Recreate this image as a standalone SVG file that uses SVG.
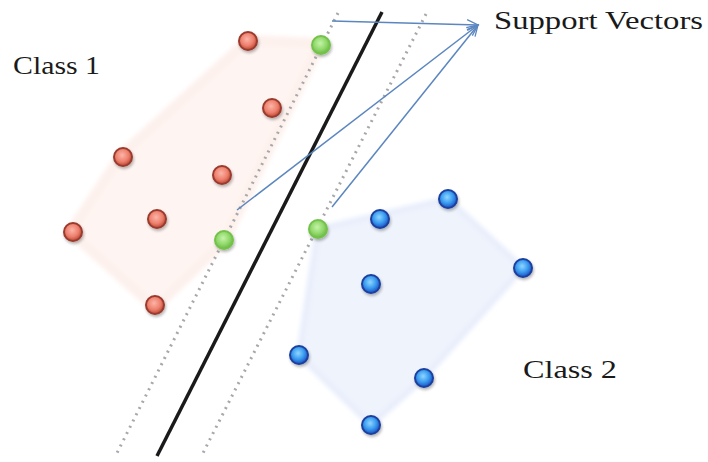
<svg xmlns="http://www.w3.org/2000/svg" width="708" height="462" viewBox="0 0 708 462">
<defs>
<radialGradient id="gr" cx="0.45" cy="0.4" r="0.6"><stop offset="0" stop-color="#fbb5a8"/><stop offset="0.6" stop-color="#ee7f6c"/><stop offset="1" stop-color="#b94736"/></radialGradient>
<radialGradient id="gg" cx="0.45" cy="0.4" r="0.6"><stop offset="0" stop-color="#c6f3a8"/><stop offset="0.6" stop-color="#8fd86a"/><stop offset="1" stop-color="#6ab844"/></radialGradient>
<radialGradient id="gb" cx="0.45" cy="0.4" r="0.6"><stop offset="0" stop-color="#8fd6ff"/><stop offset="0.55" stop-color="#3a9cf0"/><stop offset="1" stop-color="#1c4fc0"/></radialGradient>
<filter id="sh" x="-50%" y="-50%" width="200%" height="200%"><feGaussianBlur in="SourceAlpha" stdDeviation="1.5"/><feOffset dx="1" dy="2"/><feComponentTransfer><feFuncA type="linear" slope="0.3"/></feComponentTransfer><feMerge><feMergeNode/><feMergeNode in="SourceGraphic"/></feMerge></filter>
<filter id="soft"><feGaussianBlur stdDeviation="2"/></filter>
<marker id="ah" markerWidth="14" markerHeight="14" refX="12" refY="6" orient="auto" markerUnits="userSpaceOnUse"><path d="M1,1 L12,6 L1,11" fill="none" stroke="#5b86bf" stroke-width="1.3"/></marker>
</defs>
<style>
.lbl{font-family:"Liberation Serif",serif;font-size:25px;fill:#1a1a1a}
.red circle{fill:url(#gr);stroke:#9a3b2e;stroke-width:2}
.grn circle{fill:url(#gg);stroke:#74c24c;stroke-width:2}
.blu circle{fill:url(#gb);stroke:#1e3f9e;stroke-width:2}
.dot{fill:none;stroke:#a8a8a8;stroke-width:3;stroke-dasharray:2 5}
.arr{fill:none;stroke:#5b86bf;stroke-width:1.5;marker-end:url(#ah)}
</style>
<rect width="708" height="462" fill="#ffffff"/>
<g id="hull1"><polygon points="248,40 321,43 224,242 155,308 70,232 121,155" fill="#fef4f1" stroke="#fdf1ed" stroke-width="10" stroke-linejoin="round" filter="url(#soft)"/></g>
<g id="hull2"><polygon points="318,229 448,199 523,268 424,378 371,425 299,355" fill="#eef3fc" stroke="#e8eefb" stroke-width="6" stroke-linejoin="round" filter="url(#soft)"/></g>
<g id="margins">
<line class="dot" x1="338" y1="13" x2="116" y2="455"/>
<line class="dot" x1="426" y1="14" x2="202" y2="455"/>
</g>
<g id="hyperplane"><line x1="382" y1="12" x2="157" y2="456" stroke="#1a1a1a" stroke-width="3.5"/></g>
<g id="connectors">
<line class="arr" x1="332" y1="21" x2="478" y2="25"/>
<line class="arr" x1="237" y1="210" x2="478" y2="25"/>
<line class="arr" x1="332" y1="207" x2="478" y2="25"/>
</g>
<g id="class1" class="red" filter="url(#sh)">
<circle cx="248" cy="41" r="9"/>
<circle cx="272" cy="108" r="9"/>
<circle cx="123" cy="157" r="9"/>
<circle cx="222" cy="175" r="9"/>
<circle cx="157" cy="219" r="9"/>
<circle cx="73" cy="232" r="9"/>
<circle cx="155" cy="305" r="9"/>
</g>
<g id="supportvectors" class="grn" filter="url(#sh)">
<circle cx="321" cy="45" r="9"/>
<circle cx="224" cy="240" r="9"/>
<circle cx="318" cy="229" r="9"/>
</g>
<g id="class2" class="blu" filter="url(#sh)">
<circle cx="380" cy="219" r="9"/>
<circle cx="448" cy="199" r="9"/>
<circle cx="523" cy="268" r="9"/>
<circle cx="371" cy="284" r="9"/>
<circle cx="299" cy="355" r="9"/>
<circle cx="424" cy="378" r="9"/>
<circle cx="371" cy="425" r="9"/>
</g>
<g id="labels">
<text class="lbl" x="13" y="74" textLength="87" lengthAdjust="spacingAndGlyphs">Class 1</text>
<text class="lbl" x="494" y="29" textLength="209" lengthAdjust="spacingAndGlyphs">Support Vectors</text>
<text class="lbl" x="523" y="378" textLength="94" lengthAdjust="spacingAndGlyphs">Class 2</text>
</g>
</svg>
